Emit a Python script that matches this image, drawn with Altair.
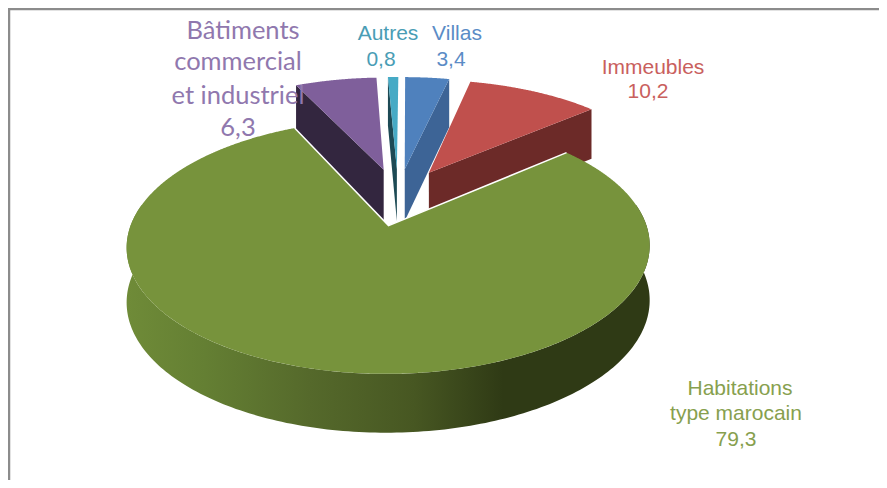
import math
import altair as alt

# ---- chart values ----
categories = ["Bâtiments commercial et industriel", "Autres", "Villas", "Immeubles", "Habitations type marocain"]
values = [6.3, 0.8, 3.4, 10.2, 79.3]
face_colors = ["#7f5f9b", "#46aac5", "#4f81bd", "#c0504d", "#77933c"]
wall_colors = ["#33263f", "#1d4a55", "#3d6496", "#6c2a28", "#2f3a15"]
label_lines = [
    ["Bâtiments", "commercial", "et industriel", "6,3"],
    ["Autres", "0,8"],
    ["Villas", "3,4"],
    ["Immeubles", "10,2"],
    ["Habitations", "type marocain", "79,3"],
]
label_colors = ["#9078ae", "#4a9db5", "#5b8cc6", "#c9605d", "#87a04e"]
label_fonts = ["Lato", "Liberation Sans", "Liberation Sans", "Liberation Sans", "Liberation Sans"]
label_sizes = [25.5, 21, 21, 21, 21]
label_x = [[235, 230, 230, 230], [380, 373], [449, 443], [645, 640], [732, 728, 728]]
label_y = [[23, 54, 88, 120], [26, 52], [26, 52], [60, 84], [381, 406, 432]]

# ---- 3D view of the exploded pie ----
W, H = 871, 472
START = -25.2          # first slice's angle, degrees clockwise from the back
EXPLODE = 0.25
A, B, K = 248.0, 114.5, 0.158
CY = 188.5
CX_BACK, CX_FRONT = 390.0, 394.0
STEPS = 4              # arc points per degree


def project(u, v, cx):
    d = 1 + K * v
    return [cx + A * u / d, CY - B * v / d]


def drop(u, v):
    return 53.0 / (1 + 0.08 * v)


def feature(coords, **props):
    return {"type": "Feature", "properties": props,
            "geometry": {"type": "Polygon", "coordinates": [coords + [coords[0]]]}}


def wall(pts, cx):
    top = [project(u, v, cx) for u, v in pts]
    low = [[p[0], p[1] + drop(*q)] for p, q in zip(top, pts)]
    return top + low[::-1]


faces, walls, green_wall, green_cut = [], [], [], []
total = sum(values)
theta = START
for i, (name, val) in enumerate(zip(categories, values)):
    span = val / total * 360
    t0, t1 = theta, theta + span
    theta = t1
    mid = math.radians((t0 + t1) / 2)
    u0, v0 = EXPLODE * math.sin(mid), EXPLODE * math.cos(mid)
    cx = CX_FRONT if i == 4 else CX_BACK
    n = max(2, int(span * STEPS))
    angles = [math.radians(t0 + (t1 - t0) * j / n) for j in range(n + 1)]
    ground = [(u0 + math.sin(a), v0 + math.cos(a)) for a in angles]
    tip = project(u0, v0, cx)
    faces.append(feature([tip] + [project(u, v, cx) for u, v in ground], name=name, color=face_colors[i]))
    if i == 4:
        front = [(u0 + math.sin(math.radians(a)), v0 + math.cos(math.radians(a))) for a in range(80, 281)]
        green_wall.append(feature(wall(front, cx), name=name))
        green_cut.append({"type": "Feature", "properties": {}, "geometry": {
            "type": "LineString",
            "coordinates": [project(*ground[-1], cx), tip, project(*ground[0], cx)]}})
    elif i < 2:
        walls.append(feature(wall([ground[0], (u0, v0)], cx), name=name, color=wall_colors[i]))
    else:
        walls.append(feature(wall([ground[-1], (u0, v0)], cx), name=name, color=wall_colors[i]))

text_rows = []
for i, lines in enumerate(label_lines):
    for line, x, y in zip(lines, label_x[i], label_y[i]):
        text_rows.append({"lon": x, "lat": y, "t": line, "color": label_colors[i],
                          "font": label_fonts[i], "size": label_sizes[i]})

frame = [{"type": "Feature", "properties": {},
          "geometry": {"type": "LineString", "coordinates": [[1, H + 5], [1, 1], [W + 5, 1]]}}]

proj = dict(type="identity", scale=1, translate=[0, 0])


def geo(features):
    return alt.InlineData(values={"type": "FeatureCollection", "features": features},
                          format=alt.JsonDataFormat(type="json", property="features"))


gradient = alt.Gradient(
    gradient="linear", x1=0, y1=0, x2=1, y2=0,
    stops=[
        alt.GradientStop(offset=0.0, color="#6f8b38"),
        alt.GradientStop(offset=0.15, color="#647f33"),
        alt.GradientStop(offset=0.35, color="#55692b"),
        alt.GradientStop(offset=0.55, color="#475722"),
        alt.GradientStop(offset=0.72, color="#2f3a15"),
        alt.GradientStop(offset=1.0, color="#2f3a15"),
    ],
)

wall_layer = alt.Chart(geo(walls)).mark_geoshape(strokeWidth=0).encode(
    fill=alt.Fill("properties.color:N", scale=None)).project(**proj)
back_faces = alt.Chart(geo(faces[:4])).mark_geoshape(strokeWidth=0).encode(
    fill=alt.Fill("properties.color:N", scale=None)).project(**proj)
green_side = alt.Chart(geo(green_wall)).mark_geoshape(fill=gradient, strokeWidth=0).project(**proj)
green_face = alt.Chart(geo(faces[4:])).mark_geoshape(strokeWidth=0).encode(
    fill=alt.Fill("properties.color:N", scale=None)).project(**proj)
green_edge = alt.Chart(geo(green_cut)).mark_geoshape(filled=False, stroke="white", strokeWidth=1.5).project(**proj)
border = alt.Chart(geo(frame)).mark_geoshape(filled=False, stroke="#8c8c8c", strokeWidth=2.5).project(**proj)

text_layers = []
for font, size in sorted({(r["font"], r["size"]) for r in text_rows}):
    rows = [r for r in text_rows if r["font"] == font and r["size"] == size]
    text_layers.append(
        alt.Chart(alt.Data(values=rows)).mark_text(font=font, fontSize=size, align="center", baseline="middle").encode(
            longitude="lon:Q", latitude="lat:Q", text="t:N", color=alt.Color("color:N", scale=None)
        ).project(**proj)
    )

chart = alt.layer(
    border, wall_layer, back_faces, green_side, green_face, green_edge, *text_layers
).properties(width=W, height=H, padding=0, background="white",
             autosize=alt.AutoSizeParams(type="none")).configure_view(stroke=None)

chart.save("out.html", embed_options={"renderer": "svg", "actions": False})
